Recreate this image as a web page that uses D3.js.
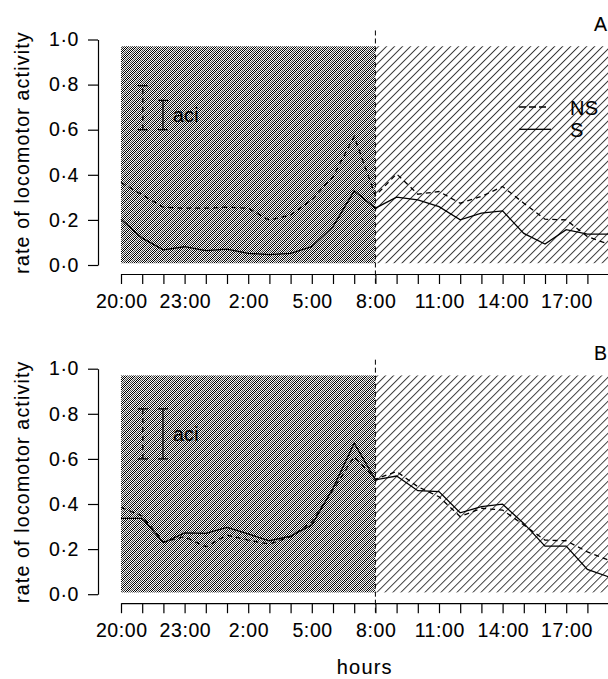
<!DOCTYPE html>
<html>
<head>
<meta charset="utf-8">
<script src="https://cdn.jsdelivr.net/npm/d3@7"></script>
<style>
  body { margin: 0; background: #fff; }
  svg { display: block; font-family: "Liberation Sans", Arial, Helvetica, sans-serif; }
  svg text { stroke: #000; stroke-width: 0.1px; }
</style>
</head>
<body>
<div id="chart"></div>
<script>
// hourly categories, 20:00 to 19:00 next day
var HOURS = ["20:00", "21:00", "22:00", "23:00", "0:00", "1:00", "2:00", "3:00",
             "4:00", "5:00", "6:00", "7:00", "8:00", "9:00", "10:00", "11:00",
             "12:00", "13:00", "14:00", "15:00", "16:00", "17:00", "18:00", "19:00"];
var TICK_LABELS = ["20:00", "23:00", "2:00", "5:00", "8:00", "11:00", "14:00", "17:00"];
var Y_TICKS = [0, 0.2, 0.4, 0.6, 0.8, 1.0];

// panel A
var S_A  = [0.203, 0.119, 0.067, 0.081, 0.064, 0.070, 0.052, 0.046, 0.052, 0.081, 0.170, 0.329,
            0.252, 0.301, 0.289, 0.259, 0.200, 0.230, 0.240, 0.140, 0.093, 0.157, 0.137, 0.137];
var NS_A = [0.366, 0.311, 0.256, 0.252, 0.252, 0.256, 0.252, 0.198, 0.222, 0.289, 0.392, 0.570,
            0.307, 0.404, 0.314, 0.326, 0.274, 0.304, 0.348, 0.274, 0.203, 0.200, 0.126, 0.092];
// panel B
var S_B  = [0.336, 0.336, 0.228, 0.272, 0.270, 0.296, 0.267, 0.237, 0.258, 0.307, 0.470, 0.670,
            0.507, 0.524, 0.459, 0.455, 0.361, 0.388, 0.399, 0.314, 0.213, 0.213, 0.110, 0.077];
var NS_B = [0.385, 0.347, 0.232, 0.255, 0.210, 0.262, 0.240, 0.222, 0.255, 0.321, 0.462, 0.610,
            0.510, 0.544, 0.477, 0.432, 0.344, 0.381, 0.373, 0.307, 0.240, 0.237, 0.188, 0.151];

// average confidence interval bars [low, high]
var ACI_NS_A = [0.60, 0.795];
var ACI_S_A  = [0.60, 0.730];
var ACI_NS_B = [0.60, 0.822];
var ACI_S_B  = [0.60, 0.822];

var WIDTH = 608, HEIGHT = 679;
var svg = d3.select("#chart").append("svg")
  .attr("width", WIDTH).attr("height", HEIGHT);

var defs = svg.append("defs");

// dense hatch of the night period
var pDense = defs.append("pattern").attr("id", "dense")
  .attr("patternUnits", "userSpaceOnUse").attr("width", 2).attr("height", 2);
pDense.append("rect").attr("width", 2).attr("height", 2).attr("fill", "#fff");
pDense.append("rect").attr("width", 1).attr("height", 1).attr("fill", "#000");
pDense.append("rect").attr("x", 1).attr("y", 1).attr("width", 1).attr("height", 1).attr("fill", "#000");

// faint light streaks running through it
var pStreak = defs.append("pattern").attr("id", "streak")
  .attr("patternUnits", "userSpaceOnUse").attr("width", 5.66).attr("height", 10)
  .attr("patternTransform", "rotate(45)");
pStreak.append("line").attr("x1", 1).attr("x2", 1).attr("y1", 0).attr("y2", 10)
  .attr("stroke", "#c0c0c0").attr("stroke-width", 0.9);

// open hatch of the day period
var pOpen = defs.append("pattern").attr("id", "open")
  .attr("patternUnits", "userSpaceOnUse").attr("width", 5.66).attr("height", 10)
  .attr("patternTransform", "rotate(45)");
pOpen.append("rect").attr("width", 5.66).attr("height", 10).attr("fill", "#fff");
pOpen.append("line").attr("x1", 0.5).attr("x2", 0.5).attr("y1", 0).attr("y2", 10)
  .attr("stroke", "#1a1a1a").attr("stroke-width", 0.85);

var x = d3.scaleLinear().domain([0, 23]).range([121, 121 + 21.2 * 23]);

var fmtY = function(d) { return d3.format(".1f")(d).replace(".", "\u00b7"); };

function drawPanel(oPanel) {
  var top = oPanel.top;
  var y = d3.scaleLinear().domain([0, 1]).range([top + 225.5, top]);
  var g = svg.append("g");
  var xAxisY = top + 234.5;

  // night and day backgrounds
  ["url(#dense)", "url(#streak)"].forEach(function(sFill) {
    g.append("rect")
      .attr("x", x(0)).attr("width", x(12) - x(0))
      .attr("y", y(0.97)).attr("height", y(0.008) - y(0.97))
      .attr("fill", sFill);
  });
  g.append("rect")
    .attr("x", x(12)).attr("width", WIDTH - x(12) + 10)
    .attr("y", y(0.97)).attr("height", y(0.008) - y(0.97))
    .attr("fill", "url(#open)");

  // 8:00 divider
  g.append("line")
    .attr("x1", x(12)).attr("x2", x(12))
    .attr("y1", y(1.04)).attr("y2", xAxisY + 11)
    .attr("stroke", "#000").attr("stroke-width", 1)
    .attr("stroke-dasharray", "5,3");

  var line = d3.line()
    .x(function(d, i) { return x(i); })
    .y(function(d) { return y(d); });

  g.append("path").datum(oPanel.ns)
    .attr("d", line).attr("fill", "none")
    .attr("stroke", "#000").attr("stroke-width", 1.3)
    .attr("stroke-dasharray", "5,4");
  g.append("path").datum(oPanel.s)
    .attr("d", line).attr("fill", "none")
    .attr("stroke", "#000").attr("stroke-width", 1.3);

  // aci bars
  [{v: oPanel.aciNs, at: 1.03, dash: "5,4"}, {v: oPanel.aciS, at: 1.98, dash: null}].forEach(function(b) {
    var cx = x(b.at);
    g.append("line").attr("x1", cx).attr("x2", cx)
      .attr("y1", y(b.v[0])).attr("y2", y(b.v[1]))
      .attr("stroke", "#000").attr("stroke-width", 1.3)
      .attr("stroke-dasharray", b.dash);
    b.v.forEach(function(v) {
      g.append("line").attr("x1", cx - 5).attr("x2", cx + 5)
        .attr("y1", y(v)).attr("y2", y(v))
        .attr("stroke", "#000").attr("stroke-width", 1.3);
    });
  });
  g.append("text")
    .attr("x", x(2.45)).attr("y", y((oPanel.aciS[0] + oPanel.aciS[1]) / 2) + 7)
    .attr("font-size", 19.5).attr("letter-spacing", 0.3)
    .text("aci");

  // axes
  var gy = g.append("g")
    .attr("transform", "translate(98,0)")
    .call(d3.axisLeft(y).tickValues(Y_TICKS).tickFormat(fmtY)
      .tickSize(10).tickSizeOuter(0).tickPadding(9));
  var gx = g.append("g")
    .attr("transform", "translate(0," + xAxisY + ")")
    .call(d3.axisBottom(x).tickValues(d3.range(HOURS.length))
      .tickFormat(function(d) { return TICK_LABELS.indexOf(HOURS[d]) >= 0 ? HOURS[d] : ""; })
      .tickSize(10).tickSizeOuter(0).tickPadding(10));
  [gy, gx].forEach(function(a) {
    a.attr("font-size", 19.5).attr("font-family", null);
    a.selectAll("path, line").attr("stroke", "#000").attr("stroke-width", 1.2);
    a.selectAll("text").attr("fill", "#000").attr("letter-spacing", 0.6);
  });
  gx.selectAll("text").attr("dx", 0.3);

  g.append("text")
    .attr("transform", "translate(29," + (top + 113) + ") rotate(-90)")
    .attr("text-anchor", "middle").attr("font-size", 19.5).attr("letter-spacing", 1.2)
    .text("rate of locomotor activity");

  g.append("text")
    .attr("x", 607).attr("y", top - 9)
    .attr("text-anchor", "end").attr("font-size", 19.5)
    .text(oPanel.label);

  return y;
}

drawPanel({label: "A", top: 39.5, s: S_A, ns: NS_A, aciNs: ACI_NS_A, aciS: ACI_S_A});
drawPanel({label: "B", top: 368.7, s: S_B, ns: NS_B, aciNs: ACI_NS_B, aciS: ACI_S_B});

// legend in panel A
var legend = svg.append("g");
[{name: "NS", dash: "7,3", y: 107, x2: 546}, {name: "S", dash: null, y: 129.3, x2: 551}].forEach(function(d) {
  legend.append("line").attr("x1", 519).attr("x2", d.x2)
    .attr("y1", d.y).attr("y2", d.y)
    .attr("stroke", "#000").attr("stroke-width", 1.3)
    .attr("stroke-dasharray", d.dash);
  legend.append("text").attr("x", 570).attr("y", d.y + 7.5)
    .attr("font-size", 20).attr("letter-spacing", 0.3)
    .text(d.name);
});

svg.append("text")
  .attr("x", x(11.5)).attr("y", 674)
  .attr("text-anchor", "middle").attr("font-size", 20).attr("letter-spacing", 1.2)
  .text("hours");
</script>
</body>
</html>
